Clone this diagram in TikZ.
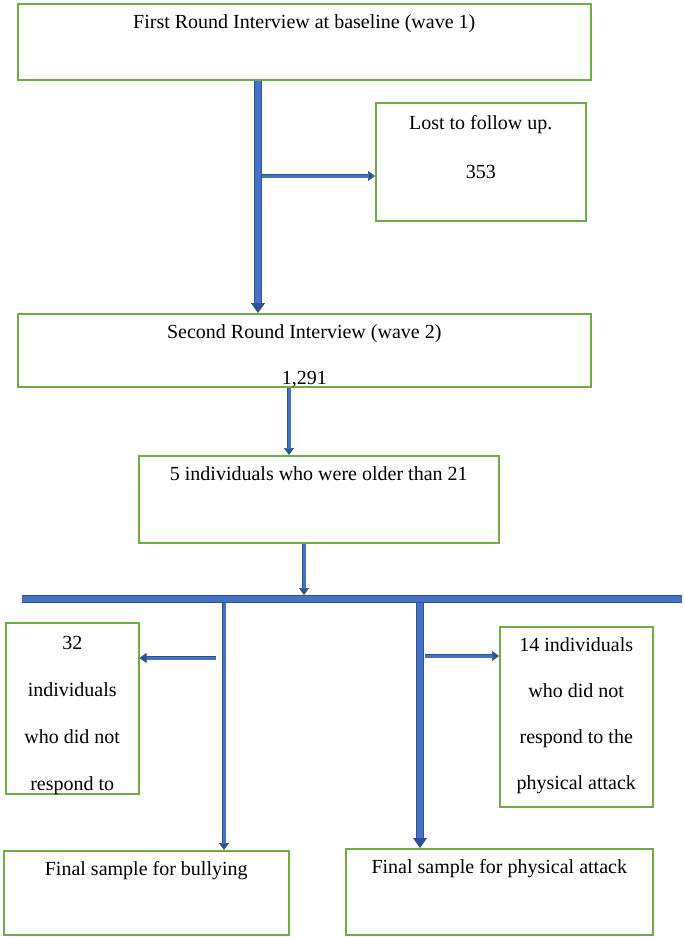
\documentclass[tikz,border=0pt]{standalone}
\usepackage{fontspec}
\setmainfont{Liberation Serif}
\usetikzlibrary{arrows.meta}
\definecolor{boxgreen}{RGB}{112,173,71}
\definecolor{arrowfill}{RGB}{68,114,196}
\definecolor{arrowline}{RGB}{47,82,143}
\newcommand{\boxtext}[4][46pt]{\parbox[c][#3][t]{#2}{\centering\fontsize{20}{#1}\selectfont\rule{0pt}{25pt}#4}}
\tikzset{
  stage/.style={draw=boxgreen, line width=1.5pt, anchor=north west, inner sep=0pt},
  trunk/.style={draw=arrowline, line width=0.8pt, double=arrowfill, double distance=5.5pt},
  bigflow/.style={trunk, -{Triangle[length=10pt,width=14pt]}},
  smallflow/.style={draw=arrowline, line width=0.7pt, double=arrowfill, double distance=3pt, -{Triangle[length=7pt,width=10pt]}},
}
\begin{document}
\begin{tikzpicture}[x=1pt,y=-1pt]
  \useasboundingbox (0,0) rectangle (684,937);
  \node[stage] (wave1) at (17,3) {\boxtext{573pt}{76pt}{First Round Interview at baseline (wave 1)}};
  \node[stage] (lost) at (375,102) {\boxtext[49pt]{210pt}{118pt}{\rule{0pt}{27pt}Lost to follow up.\\353}};
  \node[stage] (wave2) at (17,313) {\boxtext{573pt}{73pt}{Second Round Interview (wave 2)\\1,291}};
  \node[stage] (older) at (138,455) {\boxtext{360pt}{87pt}{5 individuals who were older than 21}};
  \node[stage] (nobully) at (5,622) {\boxtext[47pt]{133pt}{171pt}{\rule{0pt}{27pt}32\\individuals\\who did not\\respond to}};
  \node[stage] (noattack) at (499,626) {\boxtext{153pt}{180pt}{14 individuals\\who did not\\respond to the\\physical attack}};
  \node[stage] (finalbully) at (3,850) {\boxtext{285pt}{84pt}{Final sample for bullying}};
  \node[stage] (finalattack) at (345,848) {\boxtext{307pt}{86pt}{Final sample for physical attack}};

  \coordinate (lostjoin) at (258,176);
  \coordinate (olderx) at (289,0);
  \coordinate (barx) at (304,0);
  \coordinate (barL) at (22,599);
  \coordinate (barR) at (682,599);
  \coordinate (bullyjoin) at (224,658);
  \coordinate (attackjoin) at (420,656);

  \draw[bigflow] (wave1.south -| lostjoin) -- (wave2.north -| lostjoin);
  \draw[smallflow] ([xshift=4pt]lostjoin) -- (lost.west |- lostjoin);
  \draw[smallflow] (wave2.south -| olderx) -- (older.north -| olderx);
  \draw[smallflow, shorten >=4pt] (older.south -| barx) -- (barL -| barx);
  \draw[smallflow] (barL -| bullyjoin) -- (finalbully.north -| bullyjoin);
  \draw[smallflow] ([xshift=-8pt]bullyjoin) -- (nobully.east |- bullyjoin);
  \draw[bigflow] (barL -| attackjoin) -- (finalattack.north -| attackjoin);
  \draw[smallflow] ([xshift=5pt]attackjoin) -- (noattack.west |- attackjoin);
  \draw[trunk] (barL) -- (barR);
\end{tikzpicture}
\end{document}
